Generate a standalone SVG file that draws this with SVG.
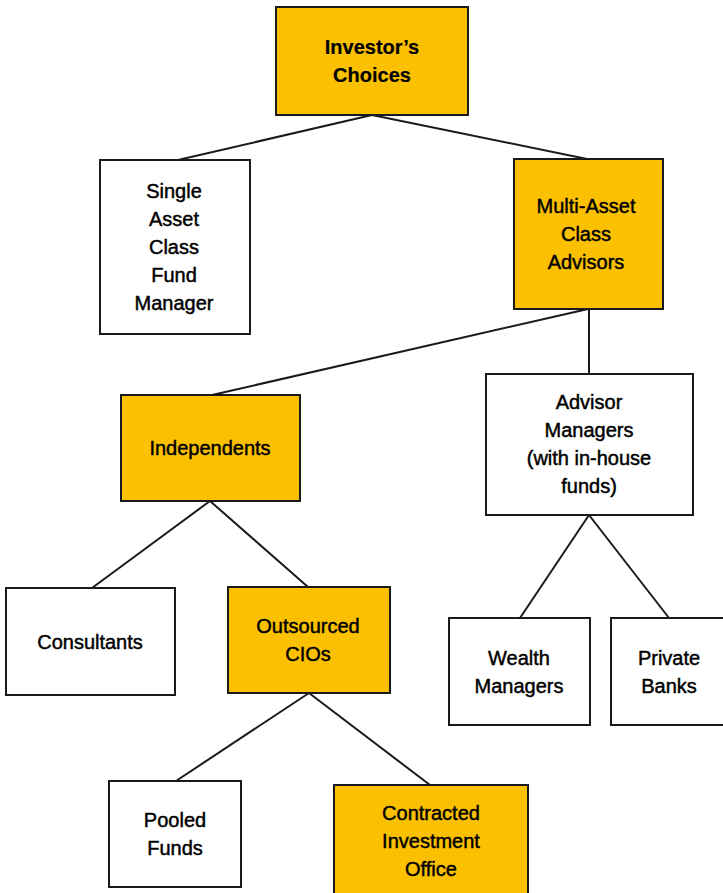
<svg xmlns="http://www.w3.org/2000/svg" width="723" height="893" viewBox="0 0 723 893">
<style>
.box{stroke:#1a1a1a;stroke-width:2}
.y{fill:#FBC000}
.w{fill:#ffffff}
text{font-family:"Liberation Sans",Arial,sans-serif;font-size:20px;fill:#000;stroke:#000;stroke-width:0.45;text-anchor:middle;dominant-baseline:central}
.b{font-weight:bold;stroke-width:0.2}
.conn line{stroke:#1a1a1a;stroke-width:2}
</style>
<rect width="723" height="893" fill="#ffffff"/>
<g class="conn" id="connectors">
<line x1="372" y1="115" x2="178" y2="160"/>
<line x1="372" y1="115" x2="587" y2="159"/>
<line x1="588" y1="309" x2="212" y2="395"/>
<line x1="589" y1="309" x2="589" y2="374"/>
<line x1="210" y1="501" x2="92" y2="588"/>
<line x1="210" y1="501" x2="308" y2="587"/>
<line x1="309" y1="693" x2="176" y2="781"/>
<line x1="309" y1="693" x2="430" y2="785"/>
<line x1="589" y1="515" x2="520" y2="618"/>
<line x1="589" y1="515" x2="669" y2="618"/>
</g>
<g id="investors-choices">
<rect class="box y" x="276" y="7" width="192" height="108"/>
<text class="b" x="372" y="47">Investor’s</text>
<text class="b" x="372" y="75">Choices</text>
</g>
<g id="single-asset">
<rect class="box w" x="100" y="160" width="150" height="174"/>
<text x="174" y="191">Single</text>
<text x="174" y="219">Asset</text>
<text x="174" y="247">Class</text>
<text x="174" y="275">Fund</text>
<text x="174" y="303">Manager</text>
</g>
<g id="multi-asset">
<rect class="box y" x="514" y="159" width="149" height="150"/>
<text x="586" y="206">Multi-Asset</text>
<text x="586" y="234">Class</text>
<text x="586" y="262">Advisors</text>
</g>
<g id="independents">
<rect class="box y" x="121" y="395" width="179" height="106"/>
<text x="210" y="448">Independents</text>
</g>
<g id="advisor-managers">
<rect class="box w" x="486" y="374" width="207" height="141"/>
<text x="589" y="402">Advisor</text>
<text x="589" y="430">Managers</text>
<text x="589" y="458">(with in-house</text>
<text x="589" y="486">funds)</text>
</g>
<g id="consultants">
<rect class="box w" x="6" y="588" width="169" height="107"/>
<text x="90" y="642">Consultants</text>
</g>
<g id="outsourced-cios">
<rect class="box y" x="228" y="587" width="162" height="106"/>
<text x="308" y="626">Outsourced</text>
<text x="308" y="654">CIOs</text>
</g>
<g id="wealth-managers">
<rect class="box w" x="449" y="618" width="141" height="107"/>
<text x="519" y="658">Wealth</text>
<text x="519" y="686">Managers</text>
</g>
<g id="private-banks">
<rect class="box w" x="611" y="618" width="114" height="107"/>
<text x="669" y="658">Private</text>
<text x="669" y="686">Banks</text>
</g>
<g id="pooled-funds">
<rect class="box w" x="109" y="781" width="132" height="106"/>
<text x="175" y="820">Pooled</text>
<text x="175" y="848">Funds</text>
</g>
<g id="contracted-investment-office">
<rect class="box y" x="334" y="785" width="194" height="112"/>
<text x="431" y="813">Contracted</text>
<text x="431" y="841">Investment</text>
<text x="431" y="869">Office</text>
</g>
</svg>
